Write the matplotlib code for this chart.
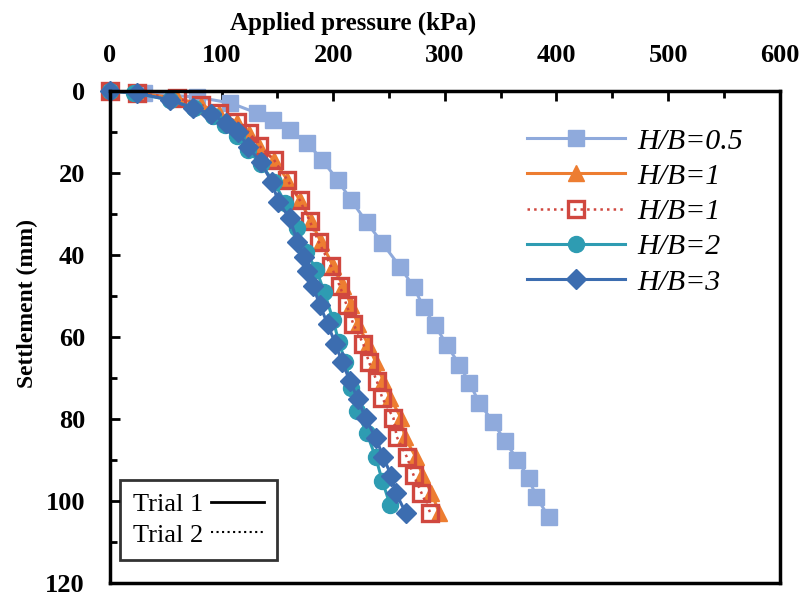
import matplotlib
matplotlib.use('Agg')
import matplotlib.pyplot as plt
from matplotlib.lines import Line2D
from matplotlib.ticker import MultipleLocator

plt.rcParams['font.family'] = ['Liberation Serif', 'DejaVu Serif']

# 하중-침하 데이터
p_05 = [0, 31, 78, 108, 132, 146, 161, 177, 190, 204, 216, 230, 244, 260, 272, 281,
        291, 302, 313, 322, 331, 343, 354, 365, 375, 382, 393]
s_05 = [0, 0.5, 1.5, 2.9, 5.4, 7.1, 9.5, 12.7, 16.8, 21.7, 26.6, 32, 37.1, 42.9, 47.8,
        52.7, 57.1, 62, 66.8, 71.2, 76.1, 80.7, 85.4, 90, 94.4, 99, 103.9]

p_1a = [0, 24, 60, 82, 98, 114, 125, 134, 147, 159, 170, 180, 189, 200, 209, 216,
        222, 231, 238, 245, 251, 261, 264, 274, 280, 288, 295]
p_1b = [0, 24, 60, 82, 98, 114, 125, 134, 147, 159, 170, 179, 187, 198, 206, 212,
        218, 227, 232, 239, 244, 254, 257, 266, 272, 279, 287]
s_1 = [0, 0.5, 1.7, 3.4, 5.4, 7.6, 10.2, 13.4, 16.8, 21.7, 26.6, 31.7, 36.8, 42.7,
       47.6, 52.2, 56.8, 61.7, 66.1, 70.7, 74.9, 79.8, 84.4, 89.3, 93.7, 98, 102.9]

p_2 = [0, 22, 54, 75, 92, 103, 114, 124, 135, 147, 157, 168, 176, 185, 192, 200,
       205, 211, 216, 221, 230, 238, 244, 251]
s_2 = [0, 0.5, 2.2, 4.1, 6.1, 8.3, 11, 14.4, 17.8, 22.2, 27.3, 33.4, 39.3, 43.7, 49,
       55.9, 61.2, 66.1, 72.4, 78, 83.4, 89.3, 95.1, 101]

p_3 = [0, 24, 54, 74, 91, 104, 115, 124, 135, 145, 151, 161, 168, 174, 177, 182,
       188, 195, 202, 208, 215, 222, 229, 238, 245, 252, 256, 265]
s_3 = [0, 0.5, 2.2, 4.1, 5.6, 7.8, 10, 13.7, 17.3, 22.2, 27.1, 31, 36.8, 40.5, 43.9,
       47.6, 52.2, 56.8, 61.7, 66.1, 70.7, 75.1, 79.8, 84.6, 89.3, 93.9, 98, 102.9]

fig = plt.figure(figsize=(8.08, 5.99), dpi=100)
ax = fig.add_axes([0.136, 0.027, 0.829, 0.821])

ax.plot(p_05, s_05, color='#8FAADC', lw=2.2, marker='s', ms=11.5, clip_on=False,
        label='H/B=0.5')
ax.plot(p_1a, s_1, color='#ED7D31', lw=2.2, marker='^', ms=12, clip_on=False,
        label='H/B=1')
ax.plot(p_1b, s_1, color='#D0473F', lw=1.8, ls=':', marker='s', ms=11, mew=2.4,
        mfc='none', clip_on=False, label='H/B=1')
ax.plot(p_2, s_2, color='#2E9CB2', lw=2.2, marker='o', ms=11.5, clip_on=False,
        label='H/B=2')
ax.plot(p_3, s_3, color='#3C6DB0', lw=2.2, marker='D', ms=10, clip_on=False,
        label='H/B=3')

ax.set_xlim(0, 600)
ax.set_ylim(120, 0)
ax.xaxis.tick_top()
ax.xaxis.set_label_position('top')
ax.xaxis.set_major_locator(MultipleLocator(100))
ax.xaxis.set_minor_locator(MultipleLocator(50))
ax.yaxis.set_major_locator(MultipleLocator(20))
ax.yaxis.set_minor_locator(MultipleLocator(10))
ax.tick_params(which='both', direction='in', width=2, labelsize=19)
ax.tick_params(axis='x', pad=17)
ax.tick_params(axis='y', pad=18)
ax.tick_params(which='major', length=7)
ax.tick_params(which='minor', length=5)
for lab in ax.get_xticklabels() + ax.get_yticklabels():
    lab.set_fontweight('bold')
for sp in ax.spines.values():
    sp.set_linewidth(2.5)

ax.set_xlabel('Applied pressure (kPa)', fontsize=18, fontweight='bold')
ax.set_ylabel('Settlement (mm)', fontsize=17, fontweight='bold')
ax.xaxis.set_label_coords(0.363, 1.124)
ax.yaxis.set_label_coords(-0.108, 0.567)

leg = ax.legend(loc='upper right', bbox_to_anchor=(0.985, 0.98), frameon=False,
                prop={'style': 'italic', 'size': 21.5}, handlelength=3.3,
                labelspacing=0.28, handletextpad=0.4)
ax.add_artist(leg)

trial_handles = [Line2D([], [], color='black', lw=2),
                 Line2D([], [], color='black', lw=1.5, ls=':')]
leg2 = ax.legend(trial_handles, ['Trial 1', 'Trial 2'], loc='lower left',
                 bbox_to_anchor=(0.015, 0.047), borderaxespad=0, markerfirst=False,
                 fancybox=False, edgecolor='black', fontsize=19, handlelength=2.0,
                 handletextpad=0.3, labelspacing=0.25, borderpad=0.5)
leg2.get_frame().set_linewidth(2)

fig.savefig('out.png', dpi=100)
